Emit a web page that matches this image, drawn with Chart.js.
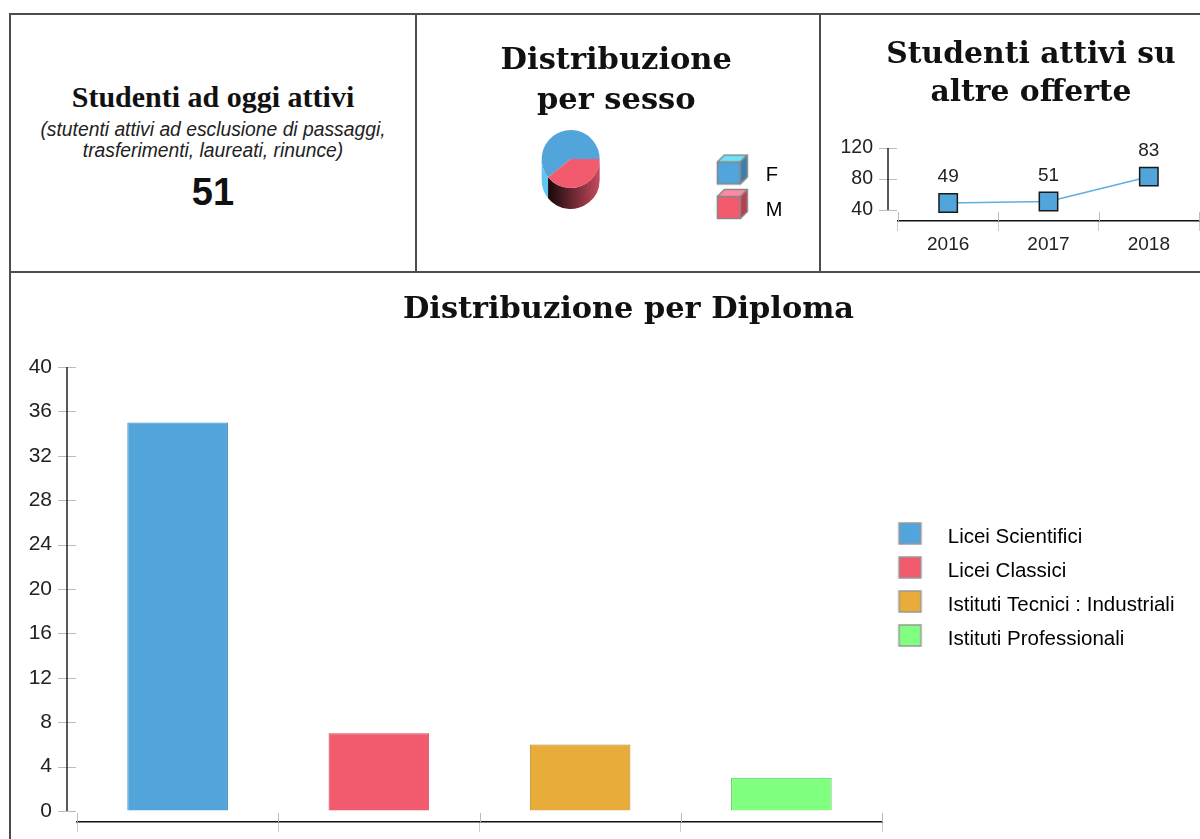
<!DOCTYPE html>
<html lang="it">
<head>
<meta charset="utf-8">
<title>Studenti attivi</title>
<script src="https://cdn.jsdelivr.net/npm/chart.js@4.4.1/dist/chart.umd.min.js"></script>
<style>
  html, body { margin: 0; padding: 0; background: #fff; overflow: hidden; }
  body { width: 1200px; height: 839px; position: relative; font-family: 'Liberation Sans', Arial, sans-serif; color: #111; }
  .linea { position: absolute; background: #4d4d4d; }
  canvas { position: absolute; }
  .testo { position: absolute; left: 11px; width: 404px; text-align: center; }
  #titoloAttivi { top: 80px; font: bold 30px/34px 'Liberation Serif', 'Times New Roman', serif; color: #111; }
  #notaAttivi { top: 119px; font: italic 19.3px/21px 'Liberation Sans', Arial, sans-serif; color: #222; }
  #numAttivi { top: 169px; font: bold 38px/46px 'Liberation Sans', Arial, sans-serif; color: #111; }
</style>
</head>
<body>
<div class="linea" style="left:9px;top:13px;width:1300px;height:2px"></div>
<div class="linea" style="left:9px;top:13px;width:2px;height:900px"></div>
<div class="linea" style="left:415px;top:13px;width:2px;height:259px"></div>
<div class="linea" style="left:819px;top:13px;width:2px;height:259px"></div>
<div class="linea" style="left:9px;top:271px;width:1300px;height:2px"></div>

<div class="testo" id="titoloAttivi">Studenti ad oggi attivi</div>
<div class="testo" id="notaAttivi">(stutenti attivi ad esclusione di passaggi,<br>trasferimenti, laureati, rinunce)</div>
<div class="testo" id="numAttivi"></div>

<canvas id="graficoSesso" width="402" height="256" style="left:417px;top:15px"></canvas>
<canvas id="graficoAltre" width="420" height="256" style="left:821px;top:15px"></canvas>
<canvas id="graficoDiploma" width="1235" height="630" style="left:11px;top:273px"></canvas>

<script>
// Dati
const studentiAttivi = 51;

const sessoLabels = ['F', 'M'];
const sessoValori = [31, 20];

const anni = ['2016', '2017', '2018'];
const attiviAltre = [49, 51, 83];
const tickAltre = [40, 80, 120];

const diplomi = ['Licei Scientifici', 'Licei Classici', 'Istituti Tecnici : Industriali', 'Istituti Professionali'];
const diplomaValori = [35, 7, 6, 3];
const tickDiploma = [0, 4, 8, 12, 16, 20, 24, 28, 32, 36, 40];

// Colori
const coloriSesso = ['#52a5da', '#f25a6e'];
const coloriDiploma = ['#52a5da', '#f25a6e', '#e8ac3a', '#80ff80'];
const bordiDiploma = ['#3f87b8', '#c9485b', '#b58527', '#5fc95f'];

const fontSerif = "'DejaVu Serif', 'Liberation Serif', serif";
const fontSans = "'Liberation Sans', Arial, sans-serif";
Chart.defaults.font.family = fontSans;
Chart.defaults.color = '#222';

document.getElementById('numAttivi').textContent = studentiAttivi;

// Asse vuoto usato solo come spazio a destra (tiene il titolo centrato sul pannello)
function spazioDestra(larghezza) {
  return {
    position: 'right',
    weight: 2000,
    grid: { display: false },
    border: { display: false },
    ticks: { display: false },
    afterFit: s => { s.width = larghezza(s); }
  };
}

// Asse Y staccato dall'area del grafico, con tacche a croce
const asseY = {
  id: 'asseY',
  afterDraw(chart, args, opts) {
    const ctx = chart.ctx;
    const y = chart.scales.y;
    const x = chart.scales.x;
    const ax = chart.chartArea.left - opts.gap;
    ctx.save();
    ctx.strokeStyle = '#bbb';
    ctx.lineWidth = 1;
    y.ticks.forEach(t => {
      const py = Math.round(y.getPixelForValue(t.value)) + 0.5;
      ctx.beginPath();
      ctx.moveTo(ax - 9, py);
      ctx.lineTo(ax + 9, py);
      ctx.stroke();
    });
    // parte alta delle tacche dell'asse X
    const n = x.ticks.length;
    for (let i = 0; i <= n; i++) {
      const px = Math.round(x.left + i * x.width / n) + 0.5;
      ctx.beginPath();
      ctx.moveTo(px, x.top - 9);
      ctx.lineTo(px, x.top);
      ctx.stroke();
    }
    const vals = y.ticks.map(t => t.value);
    ctx.strokeStyle = '#222';
    ctx.lineWidth = 1.5;
    ctx.beginPath();
    ctx.moveTo(ax, y.getPixelForValue(Math.max(...vals)));
    ctx.lineTo(ax, y.getPixelForValue(Math.min(...vals)));
    ctx.stroke();
    ctx.restore();
  }
};

// Etichette dei valori sopra i punti
const etichette = {
  id: 'etichette',
  afterDatasetsDraw(chart, args, opts) {
    const ctx = chart.ctx;
    const meta = chart.getDatasetMeta(0);
    const valori = chart.data.datasets[0].data;
    ctx.save();
    ctx.font = opts.font;
    ctx.fillStyle = '#222';
    ctx.textAlign = 'center';
    ctx.textBaseline = 'middle';
    meta.data.forEach((p, i) => ctx.fillText(String(valori[i]), p.x, p.y - opts.distanza));
    ctx.restore();
  }
};

// Lato del cilindro sotto la torta
function tratti(s, e) {
  const out = [];
  for (let k = -2; k <= 2; k++) {
    const lo = Math.max(s, k * 2 * Math.PI);
    const hi = Math.min(e, k * 2 * Math.PI + Math.PI);
    if (hi > lo) out.push([lo, hi]);
  }
  return out;
}

const cilindro = {
  id: 'cilindro',
  beforeDatasetsDraw(chart, args, opts) {
    const ctx = chart.ctx;
    const meta = chart.getDatasetMeta(0);
    meta.data.forEach((arc, i) => {
      const { x, y, startAngle, endAngle, outerRadius: r } =
        arc.getProps(['x', 'y', 'startAngle', 'endAngle', 'outerRadius'], true);
      tratti(startAngle, endAngle).forEach(([a, b]) => {
        const grad = ctx.createLinearGradient(x - r, 0, x + r, 0);
        grad.addColorStop(0, opts.scuro[i]);
        grad.addColorStop(1, opts.chiaro[i]);
        ctx.beginPath();
        ctx.arc(x, y, r, a, b);
        ctx.arc(x, y + opts.altezza, r, b, a, true);
        ctx.closePath();
        ctx.fillStyle = grad;
        ctx.fill();
      });
    });
  }
};

// Simboli della legenda
function cubo(fronte, sopra, lato) {
  const c = document.createElement('canvas');
  c.width = 40; c.height = 44;
  const g = c.getContext('2d');
  g.strokeStyle = '#888';
  g.lineWidth = 1.5;
  g.lineJoin = 'round';
  g.fillStyle = fronte;
  g.beginPath(); g.rect(1.5, 8.5, 23, 22); g.fill(); g.stroke();
  g.fillStyle = sopra;
  g.beginPath(); g.moveTo(1.5, 8.5); g.lineTo(8.5, 1.5); g.lineTo(31.5, 1.5); g.lineTo(24.5, 8.5); g.closePath(); g.fill(); g.stroke();
  g.fillStyle = lato;
  g.beginPath(); g.moveTo(24.5, 8.5); g.lineTo(31.5, 1.5); g.lineTo(31.5, 23.5); g.lineTo(24.5, 30.5); g.closePath(); g.fill(); g.stroke();
  return c;
}

function quadrato(colore) {
  const c = document.createElement('canvas');
  c.width = 42; c.height = 30;
  const g = c.getContext('2d');
  g.fillStyle = colore;
  g.fillRect(3.5, 1, 22, 21);
  g.strokeStyle = '#999';
  g.lineWidth = 1.5;
  g.strokeRect(3.5, 1, 22, 21);
  return c;
}

const cubi = [cubo('#52a5da', '#6fe3fa', '#3b80ad'), cubo('#f25a6e', '#ff8aa0', '#b8404f')];

// Distribuzione per sesso
const totaleSesso = sessoValori.reduce((a, b) => a + b, 0);
new Chart(document.getElementById('graficoSesso'), {
  type: 'pie',
  data: {
    labels: sessoLabels,
    datasets: [{ data: sessoValori, backgroundColor: coloriSesso, borderWidth: 0, radius: 29 }]
  },
  options: {
    responsive: false,
    animation: false,
    events: [],
    rotation: 450 - sessoValori[0] / totaleSesso * 360,
    layout: { padding: { left: 23, right: 26.5, top: 0, bottom: 36.5 } },
    plugins: {
      title: {
        display: true,
        text: ['Distribuzione', 'per sesso'],
        color: '#111',
        font: { family: fontSerif, size: 30.5, weight: 'bold', lineHeight: '40px' },
        padding: { top: 26.5, bottom: -38 }
      },
      legend: {
        position: 'right',
        align: 'end',
        fullSize: false,
        labels: {
          usePointStyle: true,
          pointStyleWidth: 40,
          padding: 14.5,
          font: { size: 20 },
          color: '#222',
          generateLabels: () => sessoLabels.map((t, i) => ({
            text: t, pointStyle: cubi[i], fillStyle: coloriSesso[i], strokeStyle: '#888', lineWidth: 0, hidden: false, index: i
          }))
        }
      },
      tooltip: { enabled: false },
      cilindro: { altezza: 21, scuro: ['#63c3f3', '#000000'], chiaro: ['#63c3f3', '#c64a5d'] }
    }
  },
  plugins: [cilindro]
});

// Studenti attivi su altre offerte
new Chart(document.getElementById('graficoAltre'), {
  type: 'line',
  data: {
    labels: anni,
    datasets: [{
      data: attiviAltre,
      borderColor: '#5eaee0',
      borderWidth: 1.5,
      pointStyle: 'rect',
      pointRadius: 13,
      pointBackgroundColor: '#52a5da',
      pointBorderColor: '#1a1a1a',
      pointBorderWidth: 1.5,
      clip: false
    }]
  },
  options: {
    responsive: false,
    animation: false,
    events: [],
    layout: { padding: 0 },
    scales: {
      x: {
        offset: true,
        grid: { offset: true, drawOnChartArea: false, color: '#ccc', tickLength: 10 },
        border: { color: '#111', width: 1.5 },
        ticks: { font: { size: 19 }, color: '#222', padding: 2 },
        afterFit: s => { s.height = 50; }
      },
      y: {
        min: 25.8,
        max: 120,
        afterBuildTicks: s => { s.ticks = tickAltre.map(v => ({ value: v })); },
        afterFit: s => { s.width = 77; },
        grid: { drawOnChartArea: false, color: 'transparent', tickLength: 22 },
        border: { display: false },
        ticks: { font: { size: 19.5 }, color: '#222', padding: 3 }
      },
      destra: spazioDestra(() => 42)
    },
    plugins: {
      legend: { display: false },
      tooltip: { enabled: false },
      title: {
        display: true,
        text: ['Studenti attivi su', 'altre offerte'],
        color: '#111',
        font: { family: fontSerif, size: 29.8, weight: 'bold', lineHeight: '38.4px' },
        padding: { top: 20.8, bottom: 35.4 }
      },
      asseY: { gap: 10 },
      etichette: { distanza: 26, font: "19px 'Liberation Sans', Arial, sans-serif" }
    }
  },
  plugins: [asseY, etichette]
});

// Distribuzione per Diploma
new Chart(document.getElementById('graficoDiploma'), {
  type: 'bar',
  data: {
    labels: diplomi,
    datasets: [{
      data: diplomaValori,
      backgroundColor: coloriDiploma,
      borderColor: bordiDiploma,
      borderWidth: 1,
      categoryPercentage: 1,
      barPercentage: 0.5
    }]
  },
  options: {
    responsive: false,
    animation: false,
    events: [],
    layout: { padding: 0 },
    scales: {
      x: {
        grid: { drawOnChartArea: false, color: '#ccc', tickLength: 10 },
        border: { color: '#111', width: 1.5 },
        ticks: { display: false },
        afterFit: s => { s.height = 81; }
      },
      y: {
        min: -0.99,
        max: 40,
        afterBuildTicks: s => { s.ticks = tickDiploma.map(v => ({ value: v })); },
        afterFit: s => { s.width = 66; },
        grid: { drawOnChartArea: false, color: 'transparent', tickLength: 22 },
        border: { display: false },
        ticks: { font: { size: 21 }, color: '#222', padding: 3 }
      },
      destra: spazioDestra(s => 364 - (s.chart.legend ? s.chart.legend.width : 300))
    },
    plugins: {
      title: {
        display: true,
        text: 'Distribuzione per Diploma',
        color: '#111',
        font: { family: fontSerif, size: 30.4, weight: 'bold', lineHeight: '38.4px' },
        padding: { top: 17.8, bottom: 37.8 }
      },
      legend: {
        position: 'right',
        align: 'center',
        fullSize: true,
        maxWidth: 400,
        labels: {
          usePointStyle: true,
          pointStyleWidth: 42,
          padding: 13.5,
          font: { size: 20.5 },
          color: '#222',
          generateLabels: () => diplomi.map((t, i) => ({
            text: t, pointStyle: quadrato(coloriDiploma[i]), fillStyle: coloriDiploma[i], strokeStyle: '#999', lineWidth: 0, hidden: false, index: i
          }))
        }
      },
      tooltip: { enabled: false },
      asseY: { gap: 10 }
    }
  },
  plugins: [asseY]
});
</script>
</body>
</html>
